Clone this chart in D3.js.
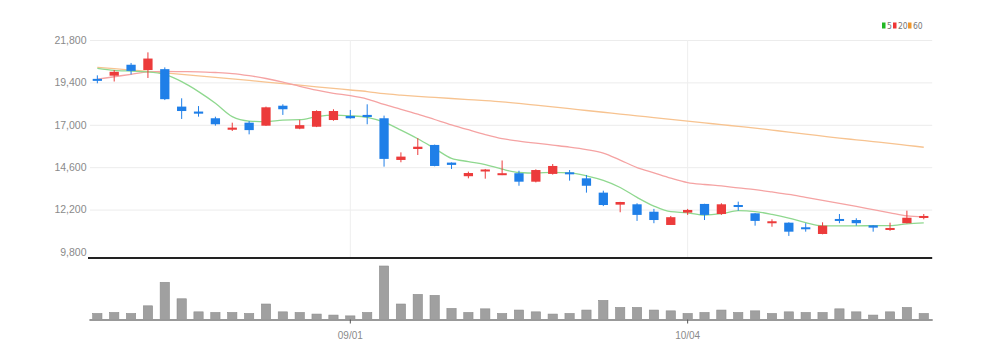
<!DOCTYPE html>
<html>
<head>
<meta charset="utf-8">
<script src="https://cdn.jsdelivr.net/npm/d3@7/dist/d3.min.js"></script>
<style>
  html, body { margin: 0; padding: 0; background: #fff; }
  svg { display: block; }
  text { font-family: "Liberation Sans Narrow", "DejaVu Sans Condensed", sans-serif; }
</style>
</head>
<body>
<svg id="chart" width="995" height="359"></svg>
<script>
const dates = ["08/10","08/11","08/12","08/16","08/17","08/18","08/19","08/22","08/23","08/24",
  "08/25","08/26","08/29","08/30","08/31","09/01","09/02","09/05","09/06","09/07",
  "09/08","09/13","09/14","09/15","09/16","09/19","09/20","09/21","09/22","09/23",
  "09/26","09/27","09/28","09/29","09/30","10/04","10/05","10/06","10/07","10/11",
  "10/12","10/13","10/14","10/17","10/18","10/19","10/20","10/21","10/24","10/25"];

const openP  = [19600,19780,20400,20100,20150,18030,17750,17370,16720,17120,
  16950,18080,16780,16890,17270,17500,17560,17370,15010,15630,
  15860,14860,14090,14400,14160,14260,13780,14220,14310,13970,
  13160,12480,12500,12080,11330,12030,12520,11950,12460,11990,
  11430,11460,11200,10820,11670,11610,11310,11090,11430,11730];
const closeP = [19500,20000,20050,20750,18450,17780,17630,17030,16840,16700,
  17990,17880,16980,17780,17780,17370,17440,15070,15200,15760,
  14670,14730,14270,14470,14260,13780,14440,14670,14220,13550,
  12460,12630,11900,11610,11770,12180,11900,12500,12370,11560,
  11540,10950,11100,11290,11560,11430,11180,11160,11740,11840];
const highP  = [19800,20100,20500,21100,20250,18500,18060,17460,17120,17210,
  18030,18160,17280,17820,17880,17840,18160,17520,15440,16240,
  15880,14870,14350,14500,14980,14400,14480,14780,14440,14160,
  13270,12640,12560,12240,11840,12240,12530,12560,12650,12000,
  11650,11480,11430,11480,11950,11710,11320,11460,12140,11950];
const lowP   = [19350,19450,19850,19650,18400,17330,17460,16950,16650,16460,
  16940,17560,16750,16870,17230,17350,17030,14630,14880,15290,
  14650,14500,13970,13950,14150,13550,13740,14180,13840,13160,
  12400,12050,11560,11430,11330,11900,11610,11900,12140,11290,
  11230,10710,10950,10800,11430,11290,10950,11000,11420,11650];

const ma5  = [20200,20080,20040,20000,19850,19440,18880,18220,17460,17210,
  17180,17270,17290,17460,17550,17510,17420,17150,16700,16210,
  15660,15100,14920,14750,14490,14300,14270,14310,14280,14110,
  13850,13450,12890,12400,12080,12020,11890,11970,12140,12090,
  11930,11720,11460,11280,11280,11280,11290,11290,11390,11450];
const ma20 = [19580,19720,19860,20000,20020,20010,20000,19960,19900,19780,
  19620,19420,19180,18960,18780,18650,18460,18150,17880,17600,
  17300,17000,16720,16450,16220,16080,15960,15850,15740,15600,
  15400,15000,14580,14280,13980,13730,13620,13540,13430,13330,
  13200,13060,12890,12720,12550,12380,12200,12020,11840,11780];
const ma60 = [20250,20180,20100,20020,19940,19850,19770,19680,19600,19510,
  19420,19330,19240,19150,19060,18970,18880,18760,18680,18610,
  18550,18490,18430,18370,18300,18210,18110,18010,17910,17810,
  17710,17610,17510,17410,17310,17210,17110,17010,16910,16810,
  16700,16590,16470,16360,16250,16150,16050,15950,15840,15730];

const volume = [300,350,300,680,1850,1030,380,350,350,300,
  770,380,350,270,220,180,350,2660,770,1250,
  1200,550,350,530,300,470,380,270,300,470,
  950,600,600,470,430,300,350,470,350,430,
  300,380,350,350,530,380,220,380,600,300];

const priceTicks = [9800,12200,14600,17000,19400,21800];
const dateTicks = ["09/01","10/04"];
const legendLabels = ["5","20","60"];

const colUp = "#ec3b3b", colDown = "#1f7fe8";
const maColors = ["#8fd88f","#f5a3a3","#f7c390"];
const legendColors = ["#22b822","#ee3535","#f0962b"];

const svg = d3.select("#chart");
const left = 88.9, right = 932.2;

const x = d3.scaleBand().domain(dates).range([left, right]).paddingInner(0.45).paddingOuter(0.225);
const y = d3.scaleLinear().domain([9800, 21800]).range([252, 40]);
const vBase = 319.5;
const yv = d3.scaleLinear().domain([0, d3.max(volume)]).range([vBase, 266]);
const cx = d => x(d) + x.bandwidth() / 2;

// horizontal grid + y labels
const yAxis = d3.axisLeft(y).tickValues(priceTicks).tickFormat(d3.format(","))
  .tickSize(-(right - 90)).tickPadding(3.5);
const gy = svg.append("g").attr("transform", "translate(90,0)").call(yAxis);
gy.select(".domain").remove();
gy.selectAll(".tick line").attr("stroke", "#ececec").attr("stroke-width", 1)
  .attr("opacity", d => d === 9800 ? 0 : 1);
gy.selectAll(".tick text").attr("fill", "#8a8a8a").style("font-size", "10.5px")
  .style("font-family", '"Liberation Sans Narrow", sans-serif');

// vertical grid at date ticks
const gridX = d3.axisBottom(x).tickValues(dateTicks).tickSize(-(258 - 40)).tickFormat("");
const gx = svg.append("g").attr("transform", "translate(0,258)").call(gridX);
gx.select(".domain").remove();
gx.selectAll(".tick line").attr("stroke", "#eeeeee");

// MA lines
const series = [ma5, ma20, ma60];
const line = d3.line().x((d, i) => cx(dates[i])).y(d => y(d)).curve(d3.curveMonotoneX);
[2, 1, 0].forEach(k => {
  svg.append("path").datum(series[k]).attr("d", line)
    .attr("fill", "none").attr("stroke", maColors[k]).attr("stroke-width", 1.3);
});

// candles
const candles = svg.append("g");
dates.forEach((d, i) => {
  const up = closeP[i] >= openP[i];
  const c = up ? colUp : colDown;
  candles.append("line")
    .attr("x1", cx(d)).attr("x2", cx(d))
    .attr("y1", y(highP[i])).attr("y2", y(lowP[i]))
    .attr("stroke", c).attr("stroke-width", 1);
  const top = y(Math.max(openP[i], closeP[i]));
  const bot = y(Math.min(openP[i], closeP[i]));
  candles.append("rect")
    .attr("x", x(d)).attr("width", x.bandwidth())
    .attr("y", top).attr("height", Math.max(2, bot - top))
    .attr("fill", c);
});

// price bottom line
svg.append("line").attr("x1", 88).attr("x2", right).attr("y1", 258).attr("y2", 258)
  .attr("stroke", "#222").attr("stroke-width", 2);

// volume bars
svg.append("g").selectAll("rect").data(volume).join("rect")
  .attr("x", (v, i) => x(dates[i]))
  .attr("width", x.bandwidth())
  .attr("y", v => yv(v))
  .attr("height", v => vBase - yv(v))
  .attr("fill", "#a0a0a0").attr("stroke", "#8c8c8c").attr("stroke-width", 0.6);

// x axis
const xAxis = d3.axisBottom(x).tickValues(dateTicks).tickSize(4).tickSizeOuter(0).tickPadding(8.5);
const gxa = svg.append("g").attr("transform", `translate(0,${vBase})`).call(xAxis);
gxa.select(".domain").attr("stroke", "#999").attr("stroke-width", 2);
gxa.selectAll(".tick line").attr("stroke", "#555");
gxa.selectAll(".tick text").attr("fill", "#8a8a8a").style("font-size", "10px")
  .style("font-family", '"Liberation Sans Narrow", sans-serif');

// legend
const legendX = [882, 893, 908];
const lg = svg.append("g");
legendLabels.forEach((t, k) => {
  lg.append("rect").attr("x", legendX[k]).attr("y", 22.5).attr("width", 3.5).attr("height", 6)
    .attr("fill", legendColors[k]);
  lg.append("text").attr("x", legendX[k] + 5).attr("y", 28.5).text(t)
    .attr("fill", "#777").style("font-size", "8.5px");
});
</script>
</body>
</html>
